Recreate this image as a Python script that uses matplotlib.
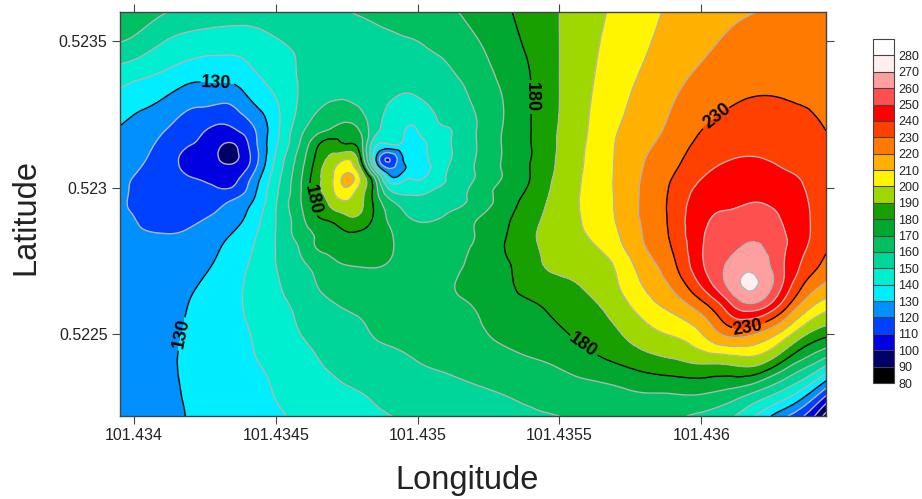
import numpy as np
import matplotlib
matplotlib.use('Agg')
import matplotlib.pyplot as plt
import matplotlib.tri as mtri

plt.rcParams['font.family'] = ['Liberation Sans', 'DejaVu Sans']

# grid the surface was read on (denser round the two small features)
lons = [101.43395, 101.4340, 101.4341, 101.4342, 101.43428, 101.434345, 101.43441, 101.4345,
        101.4346, 101.43465, 101.4347, 101.43475, 101.4348, 101.43485, 101.4349, 101.43495,
        101.4350, 101.43505, 101.4351, 101.4352, 101.4353, 101.4354, 101.4355, 101.4356,
        101.4357, 101.4358, 101.4359, 101.4360, 101.4361, 101.43617, 101.4363, 101.4364, 101.43644]
lats = [0.5236, 0.5235, 0.5234, 0.5233, 0.5232, 0.52315, 0.5231, 0.52306, 0.52303, 0.52299, 0.52295,
        0.5229, 0.52285, 0.5228, 0.52274, 0.52267, 0.5226, 0.5225, 0.5224, 0.5223, 0.52222]

# one row per latitude, north to south
values = [
    [168,166,161,157,155.5,155,155,155,156,157,158.5,159.7,160.7,162,163,164,165.5,167,168.5,172.5,178,184,190,196,202,207,212,215,218,219.5,222,224,225],
    [160.5,158,150.5,146.5,145,144.5,145.5,149.3,152.5,153.5,154.5,155.5,156,157,158,159,160,162,164,169,175.5,182.5,190,197,203.5,208.5,214.5,218,221.5,223.5,225.5,227,228],
    [147,145,140.3,135.5,134.7,135,139,144.5,151.5,152,152.5,153,153,153,153,153.5,154.5,156,158.5,165,172.5,180.5,190,198,205,211,217,221,225,226.5,227.8,228.8,229],
    [136,133,129.7,123,122.5,122.5,130,139.7,153,157.5,159.7,159.8,157,153,150.3,149,149.3,151.5,154,161.5,170,180,190,199,207,213.5,219.6,225,228.8,230.3,230,229.4,229.2],
    [129.5,128,121.2,114.5,108.5,109,117,137,159.5,167,171,174,168,153,148,141,140.5,147.5,149.5,159,170.2,180,190.7,200,209.3,216,222.5,229.7,234,235.2,234,231,229.9],
    [127.5,125.5,117.5,110.4,104,99.5,112.5,138.5,165,179,184,180,173,143,140.8,138.5,137.5,143,148.5,159,170.5,180,191,200.7,210.4,218,224.5,232.5,237,237.8,236.3,233,231],
    [125,123,115,107.5,102,98,110,141.5,169,184,193,199,179.5,133,110,131,137,142,148,159.5,170.5,180,191.5,201.2,210.8,219.8,226.7,235.5,239.7,240.4,238.2,234.7,232],
    [123.5,121,114,108.8,105,103,114.5,144,171.5,187,199,207,191,150,123,129,136.5,141,149.5,160,170.5,180.5,192,201.5,211,220.6,228.7,238,242,243,240,236,232.7],
    [122.5,119.5,113.7,110.3,108,107,120,146,173,188,199.5,214,199,170,135,138,139,146,150,160,170.5,180.5,193,201.7,211.2,221.3,230.5,240,244,245,242,236.8,233.2],
    [121.5,119,114,112.5,111.5,112,124,148,173.5,188,199,207,194.5,175,151,146.5,147.5,150,153,162.5,173.5,182,194,201.8,211.2,221.8,232,243,246,247.2,244,237.5,233.6],
    [121,119,115.5,115,116,121.5,129,149.3,172.5,183,194,199,192,177,163,156,152.5,154,157.5,162,174.5,184,195,201.7,211,222,232.8,245.5,248.5,249.8,246,238,233.9],
    [120.8,120,117.5,118,121,125.5,133,150,170.3,180,184,189,188,178,168,161.5,158.5,159,160.5,168,177.5,186,196,201.2,210.7,221.8,233,247.5,251.3,253.4,248,238.4,234],
    [121,120.5,119.7,120.8,125,129.5,136.5,150.2,167,172,176,180,179.5,176.5,171,166,163,162.5,163.5,170,178.5,188,196,200.5,209,221,232.5,248.5,254.5,257.4,249.5,238.3,233.4],
    [122,121.5,122,123,128,132.5,138.7,150.2,163.8,171.5,174,176,176,174,171,168,166,165,165.5,171,179.5,188,194.5,198.5,206.5,219.8,231,249,257.5,261,250.2,237,232],
    [124,124,124.5,126,130.2,135,140.7,150,159.5,163.5,168,170.5,171,171,169.5,167,165.5,165,165,173.5,178.5,186.5,193,195,201.5,215.5,228,248.5,261.5,267,248.5,233,226.5],
    [127,127,126.5,128.8,133,137.5,141.5,148.7,156.5,160.5,163,165,166,166,165.5,164.5,164.5,165,167.5,174,177.5,184,187.5,191.5,199,211,222.3,241.5,263,272,246,223.5,219],
    [127.5,128,127.5,130.5,135,138.5,141.2,147,153.8,157.5,159.5,161,162,162.5,163,163.5,164,165,167,170.5,175.5,179,183.5,188,195,205.5,214,226.5,248,258.5,233,210,205],
    [128,128,127.5,132,136.5,138.5,140,144.5,150.7,153,155,156.5,158.5,160.5,161.5,162.5,164,165,166,168.5,171.5,174.5,178.5,183,188.5,196,201,209.5,223,222,204,186.5,183],
    [125,125,127,133,136.5,138,139.3,142,147,149.5,151.5,153,154.5,156,157,158,159.7,161,162,164.5,166.5,168.5,171.5,176,180,184.5,187.5,190.5,191.5,193.5,175.5,160,153],
    [123,123,126,132,135,136.5,137.5,140.5,144.5,146,147.7,149,150,151.5,153,154,155,155.7,156.5,158.5,160.3,162,164,165.5,167.5,170.1,170.6,171,167,161.5,146,126,114],
    [122,122,125,131,133.5,135,136,138.5,142,143,144.5,145.7,147,148.5,149.8,151,152,153,154,156,158,159.2,160,161,162.5,163,161.5,158,152,143,121,100,86],
]

levels = list(range(80, 300, 10))
black_levels = [130, 180, 230]
band_colors = ['#000000', '#000066', '#0000E0', '#0040FF', '#0090FF', '#00EEFF', '#00EFD0',
               '#00D59A', '#00C060', '#00A830', '#18A000', '#9FD800', '#FFF500', '#FFB000',
               '#FF7A00', '#FF4000', '#FF0000', '#FF5050', '#FF9FA0', '#FFEEEE', '#FFFFFF']

lon_ticks = [101.434, 101.4345, 101.435, 101.4355, 101.436]
lon_labels = ['101.434', '101.4345', '101.435', '101.4355', '101.436']
lat_ticks = [0.5225, 0.523, 0.5235]
lat_labels = ['0.5225', '0.523', '0.5235']

# where the contour labels sit
label_spots = [(101.43429, 0.52335), (101.43418, 0.5225), (101.43539, 0.52331), (101.43463, 0.52296),
               (101.43558, 0.52246), (101.43606, 0.52324), (101.43616, 0.52253)]

W, H = 922, 499
FRAME = '#444444'
fig = plt.figure(figsize=(W / 100, H / 100), dpi=100)
ax = fig.add_axes([120 / W, 1 - 416 / H, 706 / W, 404 / H])

# triangulate the read grid, let matplotlib round off the contours
lon_grid, lat_grid = np.meshgrid(lons, lats[::-1])
z = np.array(values)[::-1].ravel()
nrow, ncol = lon_grid.shape
triangles = []
for i in range(nrow - 1):
    for j in range(ncol - 1):
        a = i * ncol + j
        triangles.append([a, a + 1, a + ncol + 1])
        triangles.append([a, a + ncol + 1, a + ncol])
tri = mtri.Triangulation(lon_grid.ravel(), lat_grid.ravel(), triangles)
fine_tri, fine_z = mtri.UniformTriRefiner(tri).refine_field(z, subdiv=3)

cf = ax.tricontourf(fine_tri, fine_z, levels=levels, colors=band_colors)
gray_levels = [l for l in levels if l not in black_levels]
ax.tricontour(fine_tri, fine_z, levels=gray_levels, colors='#B4B4B4', linewidths=1.0)
cs = ax.tricontour(fine_tri, fine_z, levels=black_levels, colors='black', linewidths=1.0)
labels = ax.clabel(cs, fmt='%d', fontsize=13, manual=label_spots, inline=True, inline_spacing=2)
for t in labels:
    t.set_fontweight('bold')

ax.set_xlim(101.43395, 101.43644)
ax.set_ylim(0.52222, 0.5236)
ax.set_xticks(lon_ticks)
ax.set_xticklabels(lon_labels)
ax.set_yticks(lat_ticks)
ax.set_yticklabels(lat_labels)
ax.tick_params(direction='out', top=True, right=True, length=6, width=0.8, color=FRAME,
               labelsize=11.5, labelcolor='#222222', pad=3)
for s in ax.spines.values():
    s.set_edgecolor(FRAME)
    s.set_linewidth(1.0)
fig.text(467 / W, 1 - 480 / H, 'Longitude', ha='center', va='center', fontsize=23.5, color='#222222')
fig.text(26 / W, 1 - 217 / H, 'Latitude', ha='center', va='center', rotation=90, fontsize=23.5, color='#222222')

cax = fig.add_axes([873 / W, 1 - 383 / H, 21 / W, 344 / H])
cb = fig.colorbar(cf, cax=cax, ticks=levels[:-1], drawedges=True)
cb.ax.set_yticklabels([str(l) for l in levels[:-1]])
cb.ax.tick_params(length=0, labelsize=9, labelcolor='#222222', pad=3)
cb.outline.set_edgecolor(FRAME)
cb.outline.set_linewidth(0.8)
cb.dividers.set_color(FRAME)
cb.dividers.set_linewidth(0.8)

fig.savefig('out.png', dpi=100)
